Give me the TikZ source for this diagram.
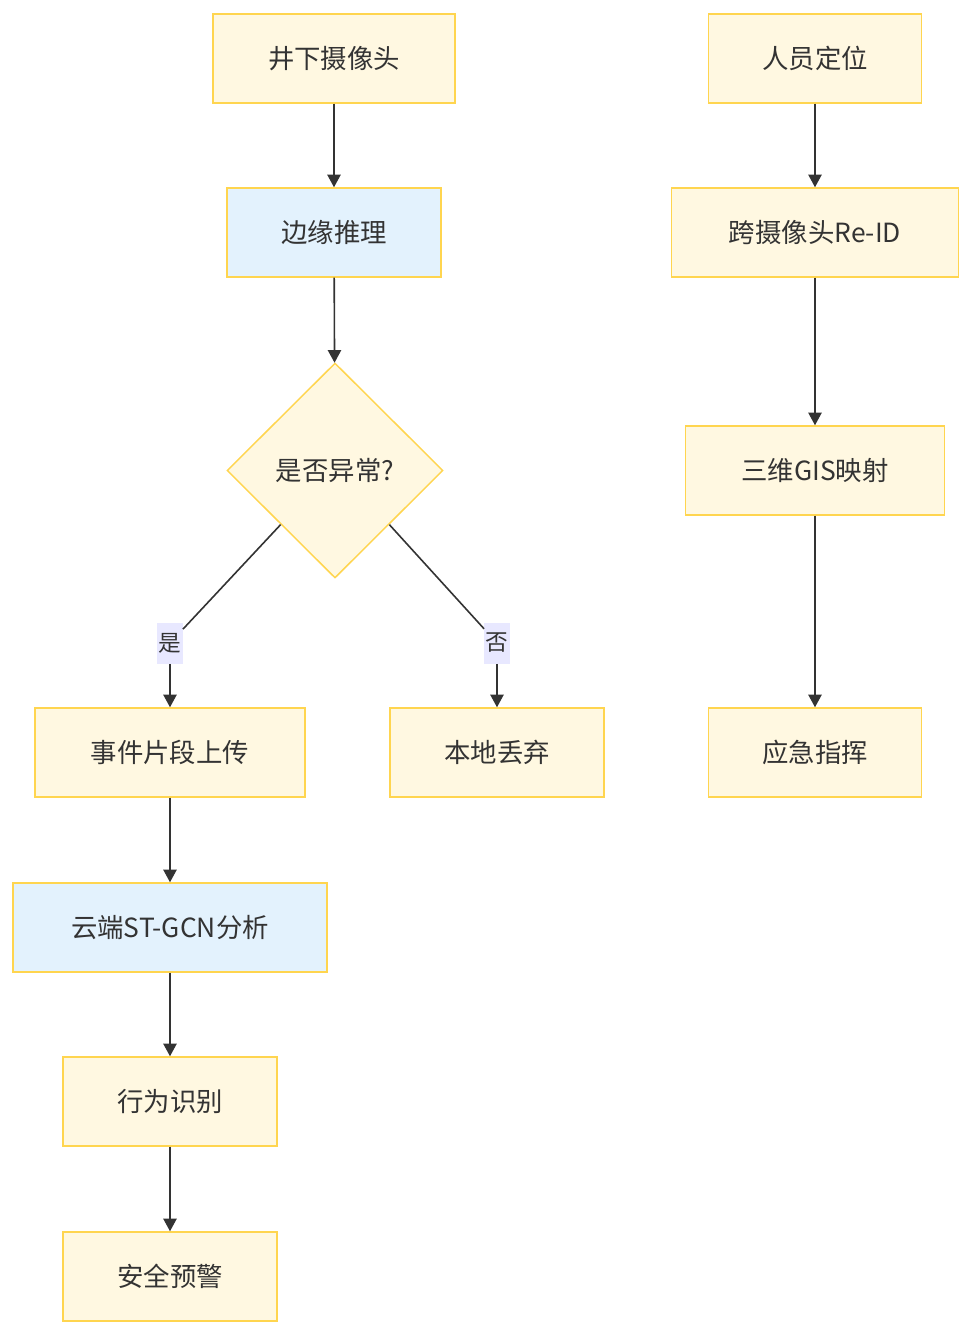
\documentclass[tikz,border=0pt]{standalone}
\usepackage{fontspec}
\setmainfont{Noto Sans CJK SC}
\usepackage{xcolor}
\usepackage{tikz}
\usetikzlibrary{shapes.geometric,arrows.meta}
\definecolor{boxfill}{HTML}{FFF8E1}
\definecolor{boxline}{HTML}{FFD54F}
\definecolor{bluefill}{HTML}{E3F2FD}
\definecolor{lblfill}{HTML}{E8E8FF}
\definecolor{ink}{HTML}{333333}
\begin{document}
\begin{tikzpicture}[x=0.75pt,y=-0.75pt,
	box/.style={draw=boxline,fill=boxfill,line width=1.1pt,minimum height=66.75pt,inner sep=0pt,text=ink,font=\fontsize{19.8pt}{24pt}\selectfont},
	bluebox/.style={box,fill=bluefill},
	choice/.style={box,diamond,minimum width=162pt,minimum height=161.25pt},
	lbl/.style={fill=lblfill,text=ink,inner xsep=1pt,inner ysep=0pt,minimum height=30.75pt,font=\fontsize{17pt}{20pt}\selectfont},
	flow/.style={draw=ink,line width=1.2pt},
	>={Triangle[length=9.5pt,width=10pt]}]
\useasboundingbox (0,0) rectangle (972,1336);
% left column
	\node[box,minimum width=181.5pt] at (334,58.5) (cam) {井下摄像头};
	\node[bluebox,minimum width=160.5pt] at (334,232.5) (edge) {边缘推理};
	\node[choice] at (335,470.5) (abn) {是否异常?};
	\node[lbl] at (170,643) (yes) {是};
	\node[lbl] at (497,643) (no) {否};
	\node[box,minimum width=202.5pt] at (170,752.5) (upl) {事件片段上传};
	\node[box,minimum width=160.5pt] at (497,752.5) (drop) {本地丢弃};
	\node[bluebox,minimum width=235.5pt] at (170,927.5) (cloud) {云端ST-GCN分析};
	\node[box,minimum width=160.5pt] at (170,1101.5) (act) {行为识别};
	\node[box,minimum width=160.5pt] at (170,1276.5) (warn) {安全预警};
% right column
	\node[box,minimum width=160pt] at (815,58.5) (pos) {人员定位};
	\node[box,minimum width=215.25pt] at (815,232.5) (reid) {跨摄像头Re-ID};
	\node[box,minimum width=194.25pt] at (815,470.5) (gis) {三维GIS映射};
	\node[box,minimum width=160pt] at (815,752.5) (cmd) {应急指挥};
	\draw [flow,->] (cam) -- (edge);
	\draw [flow,->] (edge) -- (abn);
	\draw [flow] (abn.south west) -- (yes);
	\draw [flow,->] (yes) -- (upl);
	\draw [flow] (abn.south east) -- (no);
	\draw [flow,->] (no) -- (drop);
	\draw [flow,->] (upl) -- (cloud);
	\draw [flow,->] (cloud) -- (act);
	\draw [flow,->] (act) -- (warn);
	\draw [flow,->] (pos) -- (reid);
	\draw [flow,->] (reid) -- (gis);
	\draw [flow,->] (gis) -- (cmd);
\end{tikzpicture}
\end{document}
